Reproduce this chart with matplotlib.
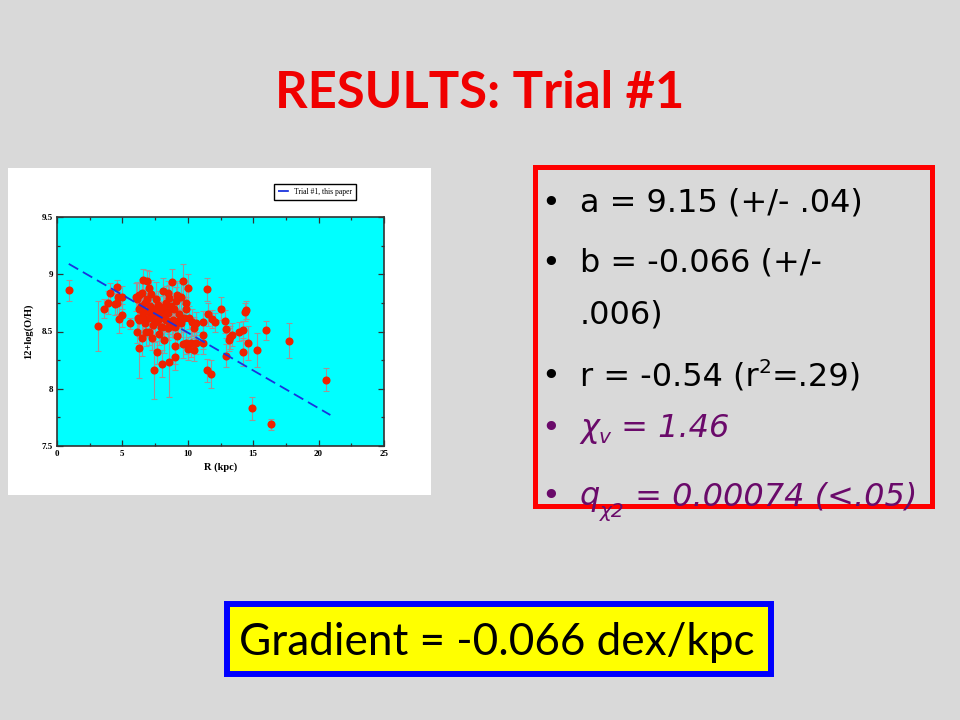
import numpy as np
import matplotlib
matplotlib.use('Agg')
import matplotlib.pyplot as plt
from matplotlib.patches import Rectangle

# fit parameters
a_fit = 9.15
b_fit = -0.066
fit_x = [0.9, 20.9]

# galactocentric radius (kpc), 12+log(O/H) and 1-sigma errors
R = [0.9, 3.1, 3.6, 3.9, 4.05, 4.45, 4.55, 4.65, 5.0, 4.75, 5.0, 5.6, 4.6,
     6.05, 6.15, 6.25, 6.6, 6.9, 6.2, 6.3, 6.25, 6.5, 6.55, 6.7, 6.8, 7.0, 6.9,
     7.05, 7.2, 7.25, 7.4, 7.65, 7.45, 7.5, 7.6, 7.8, 7.9, 7.95, 8.0, 8.05, 8.1,
     8.2, 8.2, 8.3, 8.4, 8.45, 8.55, 8.6, 8.6, 8.8, 8.9, 8.95, 9.0, 9.0, 9.05,
     9.15, 9.25, 9.3, 9.6, 9.65, 9.7, 9.9, 9.9, 9.9, 10.05, 10.05, 10.1, 10.25,
     10.3, 10.45, 10.45, 10.6, 10.6, 11.15, 11.15, 11.2, 11.45, 11.45, 11.55,
     11.8, 11.85, 12.1, 12.5, 12.85, 12.9, 12.9, 13.15, 13.25, 13.35, 13.9,
     14.2, 14.2, 14.35, 14.45, 14.6, 15.3, 15.95, 17.75, 14.9, 16.35, 20.6,
     6.3, 6.45, 6.6, 6.75, 6.85, 7.1, 7.3, 7.35, 7.55, 7.7, 7.75, 8.0, 8.15,
     8.3, 8.5, 8.7, 8.8, 9.1, 9.2, 9.45, 6.5, 7.0, 8.45, 9.5, 6.1, 7.8]
OH = [8.86, 8.55, 8.70, 8.75, 8.84, 8.74, 8.89, 8.80, 8.80, 8.61, 8.64, 8.57, 8.75,
      8.80, 8.78, 8.82, 8.95, 8.94, 8.62, 8.60, 8.36, 8.44, 8.62, 8.75, 8.50, 8.50, 8.68,
      8.62, 8.83, 8.44, 8.16, 8.32, 8.70, 8.58, 8.78, 8.65, 8.69, 8.54, 8.22, 8.54, 8.85,
      8.43, 8.62, 8.75, 8.67, 8.53, 8.23, 8.79, 8.58, 8.93, 8.60, 8.70, 8.54, 8.28, 8.37,
      8.82, 8.59, 8.65, 8.39, 8.94, 8.62, 8.75, 8.70, 8.40, 8.88, 8.35, 8.62, 8.40,
      8.58, 8.53, 8.34, 8.57, 8.40, 8.58, 8.40, 8.47, 8.87, 8.16, 8.65,
      8.13, 8.61, 8.58, 8.70, 8.59, 8.52, 8.29, 8.43, 8.45, 8.47, 8.50,
      8.51, 8.32, 8.67, 8.69, 8.40, 8.34, 8.51, 8.42, 7.83, 7.69, 8.08,
      8.70, 8.72, 8.66, 8.57, 8.78, 8.72, 8.64, 8.56, 8.68, 8.60, 8.73, 8.64, 8.71,
      8.60, 8.66, 8.72, 8.55, 8.77, 8.46, 8.57, 8.84, 8.88, 8.84, 8.80, 8.50, 8.48]
err = [0.09, 0.22, 0.08, 0.10, 0.08, 0.10, 0.06, 0.08, 0.10, 0.12, 0.10, 0.05, 0.10,
       0.12, 0.15, 0.10, 0.10, 0.10, 0.15, 0.12, 0.27, 0.15, 0.15, 0.12, 0.13, 0.12, 0.12,
       0.10, 0.12, 0.10, 0.25, 0.10, 0.12, 0.10, 0.15, 0.12, 0.12, 0.10, 0.12, 0.10, 0.12,
       0.12, 0.12, 0.15, 0.12, 0.10, 0.30, 0.12, 0.10, 0.12, 0.12, 0.10, 0.10, 0.12, 0.15,
       0.12, 0.10, 0.12, 0.12, 0.15, 0.12, 0.12, 0.10, 0.10, 0.12, 0.10, 0.10, 0.12,
       0.12, 0.10, 0.10, 0.10, 0.10, 0.10, 0.10, 0.12, 0.10, 0.10, 0.10,
       0.12, 0.08, 0.08, 0.10, 0.10, 0.08, 0.10, 0.10, 0.10, 0.10, 0.08,
       0.08, 0.12, 0.08, 0.08, 0.15, 0.15, 0.08, 0.15, 0.10, 0.05, 0.10,
       0.12, 0.12, 0.15, 0.12, 0.15, 0.12, 0.12, 0.10, 0.10, 0.12, 0.12, 0.12, 0.10,
       0.10, 0.12, 0.12, 0.10, 0.12, 0.10, 0.12, 0.12, 0.15, 0.10, 0.12, 0.10, 0.10]

xticks = [0, 5, 10, 15, 20, 25]
yticks = [7.5, 8, 8.5, 9, 9.5]
ytick_labels = ['7.5', '8', '8.5', '9', '9.5']

title = 'RESULTS: Trial #1'
gradient_text = 'Gradient = -0.066 dex/kpc'

sans = ['Lato', 'DejaVu Sans']
body = ['DejaVu Sans']
serif = ['Liberation Serif', 'DejaVu Serif']
purple = '#6a0a6a'

fig = plt.figure(figsize=(9.6, 7.2), dpi=100, facecolor='#d9d9d9')

# overlay in pixel coordinates for the slide parts
over = fig.add_axes([0, 0, 1, 1], zorder=0)
over.set_xlim(0, 960)
over.set_ylim(720, 0)
over.axis('off')

over.add_patch(Rectangle((8, 168), 423, 327, facecolor='white', edgecolor='none'))
over.add_patch(Rectangle((534.5, 166.5), 397, 339, facecolor='none',
                         edgecolor='#ff0000', lw=3.6))
over.add_patch(Rectangle((227, 604), 544, 70, facecolor='#ffff00',
                         edgecolor='#0000ff', lw=4.3))

over.text(480, 108, title, fontsize=36.5, fontweight='bold', color='#f00000',
          family=sans, ha='center', va='baseline')
over.text(239, 655, gradient_text, fontsize=31.7, color='black', family=sans,
          ha='left', va='baseline')

renderer = fig.canvas.get_renderer()


def runs(x, y, parts, color):
    for s, size, dy, style in parts:
        t = over.text(x, y + dy, s, fontsize=size, style=style, color=color,
                      family=body, ha='left', va='baseline', zorder=5)
        x += t.get_window_extent(renderer).width


fs = 23
sub = 14.5
bullets = [
    (212, [('a = 9.15 (+/- .04)', fs, 0, 'normal')], 'black', True),
    (272, [('b = -0.066 (+/-', fs, 0, 'normal')], 'black', True),
    (323, [('.006)', fs, 0, 'normal')], 'black', False),
    (385, [('r = -0.54 (r', fs, 0, 'normal'), ('2', sub, -12, 'normal'),
           ('=.29)', fs, 0, 'normal')], 'black', True),
    (437, [('χ', fs, 0, 'italic'), ('v', sub, 6, 'italic'),
           (' = 1.46', fs, 0, 'italic')], purple, True),
    (505, [('q', fs, 0, 'italic'), ('χ2', sub, 12, 'italic'),
           (' = 0.00074 (<.05)', fs, 0, 'italic')], purple, True),
]
for y, parts, color, dot in bullets:
    if dot:
        over.text(551, y, '•', fontsize=fs, color=color, family=body,
                  ha='center', va='baseline')
    runs(580, y, parts, color)

# the scatter plot
ax = fig.add_axes([57 / 960, 1 - 446 / 720, 327 / 960, 229 / 720], zorder=1)
ax.set_facecolor('#00ffff')
ax.errorbar(R, OH, yerr=err, fmt='o', color='#ee2200', ms=4.8, mec='#ee2200',
            ecolor='#a09494', elinewidth=0.8, capsize=2, capthick=0.8, zorder=3)
fx = np.array(fit_x)
ax.plot(fx, a_fit + b_fit * fx, color='#1a33dd', lw=1.3, ls=(0, (6, 3)),
        label='Trial #1, this paper', zorder=4)

ax.set_xlim(0, 25)
ax.set_ylim(7.5, 9.5)
ax.set_xticks(xticks)
ax.set_xticks(np.arange(0, 25.1, 2.5), minor=True)
ax.set_yticks(yticks, ytick_labels)
ax.set_yticks(np.arange(7.5, 9.51, 0.25), minor=True)
ax.tick_params(which='both', direction='in', top=True, right=True,
               color='#333333', width=0.9)
ax.tick_params(which='major', length=4, labelsize=6.5, pad=3)
ax.tick_params(which='minor', length=2.2)
for lab in ax.get_xticklabels() + ax.get_yticklabels():
    lab.set_family(serif)
    lab.set_fontweight('bold')
for sp in ax.spines.values():
    sp.set_color('#333333')
    sp.set_linewidth(1.2)

ax.set_xlabel('R (kpc)', family=serif, fontweight='bold', fontsize=7.5, labelpad=3)
ax.set_ylabel('12+log(O/H)', family=serif, fontweight='bold', fontsize=7.5, labelpad=6)

ax.legend(loc='center', bbox_to_anchor=(0.789, 1.109), fancybox=False,
          edgecolor='black', framealpha=1, prop={'family': serif, 'size': 5.5},
          handlelength=1.6, borderpad=0.5, handletextpad=0.6)

fig.savefig('out.png', dpi=100, facecolor=fig.get_facecolor())
